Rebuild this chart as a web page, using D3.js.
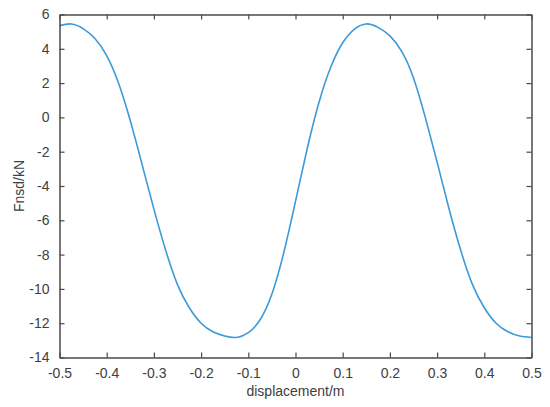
<!DOCTYPE html>
<html>
<head>
<meta charset="utf-8">
<script src="https://cdn.jsdelivr.net/npm/d3@7"></script>
<style>
  body { margin: 0; background: #fff; }
  svg text { font-family: "Liberation Sans", Arial, sans-serif; fill: #404040; }
</style>
</head>
<body>
<div id="chart"></div>
<script>
// values, one every 0.025 m
const displacement = [-0.5, -0.475, -0.45, -0.425, -0.4, -0.375, -0.35, -0.325, -0.3, -0.275, -0.25, -0.225, -0.2, -0.175, -0.15, -0.125,
  -0.1, -0.075, -0.05, -0.025, 0, 0.025, 0.05, 0.075, 0.1, 0.125, 0.15,
  0.175, 0.2, 0.225, 0.25, 0.275, 0.3, 0.325, 0.35, 0.375, 0.4, 0.425, 0.45, 0.475, 0.5];
const fnsd = [5.35, 5.45, 5.18, 4.6, 3.6, 2.0, -0.2, -2.75, -5.35, -7.75, -9.75, -11.10, -12.00, -12.50, -12.75, -12.83,
  -12.55, -11.80, -10.30, -7.90, -4.90, -1.80, 0.90, 2.95, 4.35, 5.15, 5.45,
  5.25, 4.75, 3.85, 2.30, 0.00, -2.60, -5.30, -7.75, -9.75, -11.10, -12.00, -12.50, -12.75, -12.83];
const xTicks = [-0.5, -0.4, -0.3, -0.2, -0.1, 0, 0.1, 0.2, 0.3, 0.4, 0.5];
const yTicks = [6, 4, 2, 0, -2, -4, -6, -8, -10, -12, -14];

const width = 550, height = 407;
const margin = {left: 59.5, right: 18.5, top: 14.5, bottom: 49.5};
const axisColor = "#4a4a4a";

const svg = d3.select("#chart").append("svg")
    .attr("width", width)
    .attr("height", height);

const xScale = d3.scaleLinear().domain([-0.5, 0.5]).range([margin.left, width - margin.right]);
const yScale = d3.scaleLinear().domain([-14, 6]).range([height - margin.bottom, margin.top]);

const data = displacement.map((d, i) => ({x: d, y: fnsd[i]}));

// curve
const line = d3.line()
    .x(d => xScale(d.x))
    .y(d => yScale(d.y))
    .curve(d3.curveNatural);

svg.append("path")
    .datum(data)
    .attr("d", line)
    .attr("fill", "none")
    .attr("stroke", "#3b9ad9")
    .attr("stroke-width", 1.6);

// axes, ticks point inwards like matlab
const fmt = d => d === 0 ? "0" : d3.format("")(d).replace("\u2212", "-");

const xAxis = svg.append("g")
    .attr("transform", "translate(0," + yScale(-14) + ")")
    .call(d3.axisBottom(xScale).tickValues(xTicks).tickSizeInner(-5).tickSizeOuter(0).tickPadding(11).tickFormat(fmt));

const yAxis = svg.append("g")
    .attr("transform", "translate(" + xScale(-0.5) + ",0)")
    .call(d3.axisLeft(yScale).tickValues(yTicks).tickSizeInner(-5).tickSizeOuter(0).tickPadding(10).tickFormat(fmt));

const xTop = svg.append("g")
    .attr("transform", "translate(0," + yScale(6) + ")")
    .call(d3.axisTop(xScale).tickValues(xTicks).tickSizeInner(-5).tickSizeOuter(0).tickFormat(""));

const yRight = svg.append("g")
    .attr("transform", "translate(" + xScale(0.5) + ",0)")
    .call(d3.axisRight(yScale).tickValues(yTicks).tickSizeInner(-5).tickSizeOuter(0).tickFormat(""));

[xAxis, yAxis, xTop, yRight].forEach(g => {
  g.select(".domain").attr("stroke", axisColor).attr("stroke-width", 1.5);
  g.selectAll(".tick line").attr("stroke", axisColor).attr("stroke-width", 1.2);
  g.selectAll(".tick text")
    .style("font-size", "14px")
    .attr("fill", "#404040")
    .style("font-family", "Liberation Sans, Arial, sans-serif");
});

// axis labels
svg.append("text")
    .attr("x", xScale(0))
    .attr("y", 396)
    .attr("text-anchor", "middle")
    .style("font-size", "14px")
    .text("displacement/m");

svg.append("text")
    .attr("transform", "translate(24," + yScale(-4) + ") rotate(-90)")
    .attr("text-anchor", "middle")
    .style("font-size", "14px")
    .text("Fnsd/kN");
</script>
</body>
</html>
